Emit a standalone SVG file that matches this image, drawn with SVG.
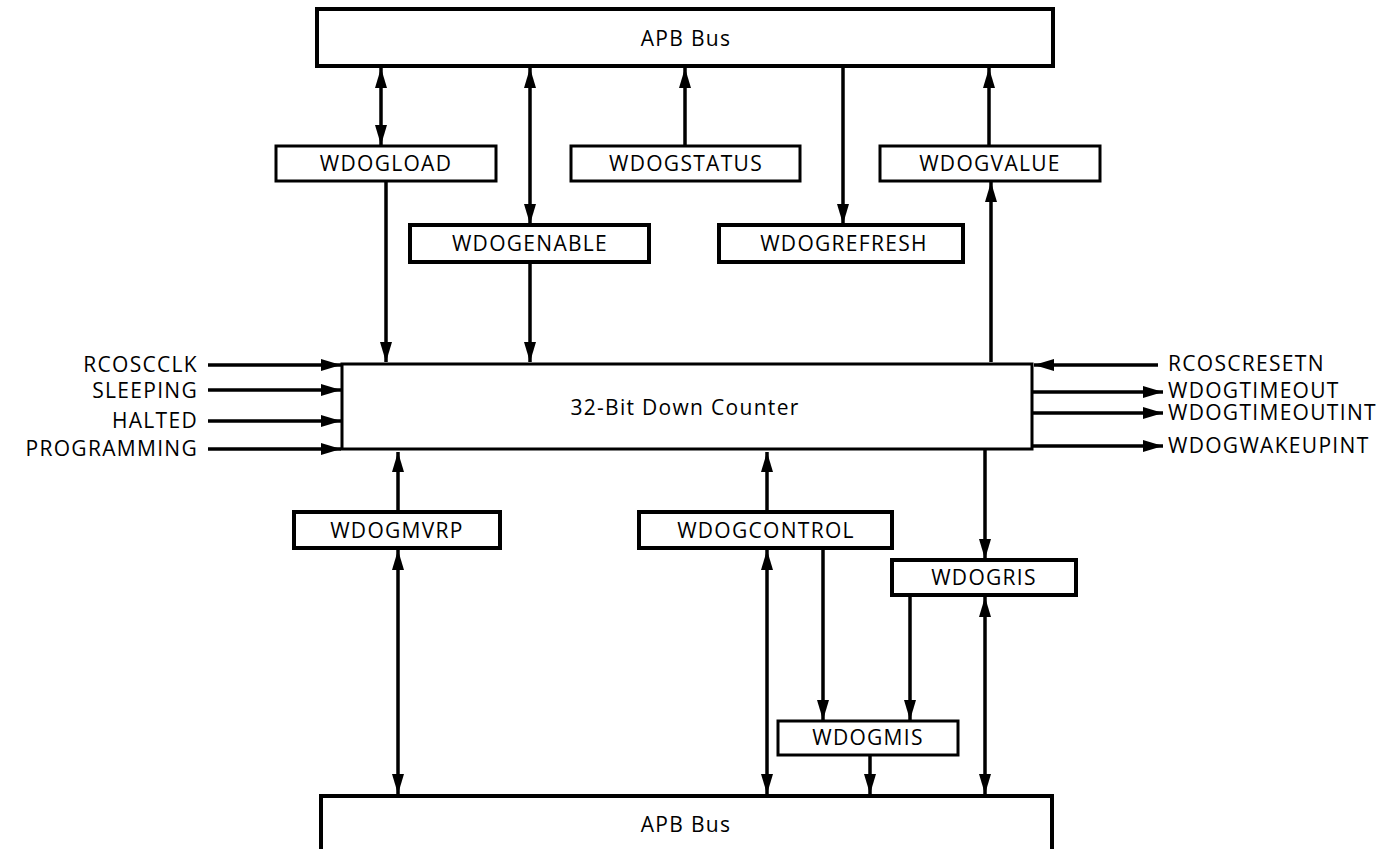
<svg xmlns="http://www.w3.org/2000/svg" width="1387" height="849" viewBox="0 0 1387 849">
<style>
  .box { fill: #fff; stroke: #000; stroke-width: 3; }
  .thick { stroke-width: 4; }
  .lbl { font-family: "Open Sans", "Liberation Sans", sans-serif; font-size: 21px; fill: #000; letter-spacing: 1.3px; }
  .c { text-anchor: middle; }
  .r { text-anchor: end; }
  .l { text-anchor: start; }
  .w { stroke: #000; stroke-width: 3.5; fill: none; }
</style>
<defs>
  <marker id="ah" markerUnits="userSpaceOnUse" markerWidth="20" markerHeight="12" refX="20" refY="6" orient="auto-start-reverse" viewBox="0 0 20 12">
    <path d="M0,0 L20,6 L0,12 z" fill="#000"/>
  </marker>
</defs>

<g id="connectors">
  <!-- top -->
  <line class="w" x1="381" y1="68" x2="381" y2="145" marker-start="url(#ah)" marker-end="url(#ah)"/>
  <line class="w" x1="386" y1="182" x2="386" y2="362" marker-end="url(#ah)"/>
  <line class="w" x1="530" y1="68" x2="530" y2="224" marker-start="url(#ah)" marker-end="url(#ah)"/>
  <line class="w" x1="530" y1="263" x2="530" y2="362" marker-end="url(#ah)"/>
  <line class="w" x1="685" y1="145" x2="685" y2="68" marker-end="url(#ah)"/>
  <line class="w" x1="843" y1="68" x2="843" y2="224" marker-end="url(#ah)"/>
  <line class="w" x1="989" y1="145" x2="989" y2="68" marker-end="url(#ah)"/>
  <line class="w" x1="991" y1="362" x2="991" y2="182" marker-end="url(#ah)"/>
  <!-- left inputs -->
  <line class="w" x1="208" y1="365" x2="341" y2="365" marker-end="url(#ah)"/>
  <line class="w" x1="208" y1="390" x2="341" y2="390" marker-end="url(#ah)"/>
  <line class="w" x1="208" y1="421" x2="341" y2="421" marker-end="url(#ah)"/>
  <line class="w" x1="208" y1="449" x2="341" y2="449" marker-end="url(#ah)"/>
  <!-- right -->
  <line class="w" x1="1158" y1="365" x2="1034" y2="365" marker-end="url(#ah)"/>
  <line class="w" x1="1033" y1="392" x2="1163" y2="392" marker-end="url(#ah)"/>
  <line class="w" x1="1033" y1="413" x2="1163" y2="413" marker-end="url(#ah)"/>
  <line class="w" x1="1033" y1="446" x2="1163" y2="446" marker-end="url(#ah)"/>
  <!-- bottom -->
  <line class="w" x1="398" y1="511" x2="398" y2="452" marker-end="url(#ah)"/>
  <line class="w" x1="398" y1="550" x2="398" y2="794" marker-start="url(#ah)" marker-end="url(#ah)"/>
  <line class="w" x1="767" y1="511" x2="767" y2="452" marker-end="url(#ah)"/>
  <line class="w" x1="767" y1="550" x2="767" y2="794" marker-start="url(#ah)" marker-end="url(#ah)"/>
  <line class="w" x1="823" y1="549" x2="823" y2="720" marker-end="url(#ah)"/>
  <line class="w" x1="985" y1="450" x2="985" y2="559" marker-end="url(#ah)"/>
  <line class="w" x1="910" y1="596" x2="910" y2="720" marker-end="url(#ah)"/>
  <line class="w" x1="985" y1="597" x2="985" y2="794" marker-start="url(#ah)" marker-end="url(#ah)"/>
  <line class="w" x1="870" y1="756" x2="870" y2="794" marker-end="url(#ah)"/>
</g>

<g id="apb-top">
  <rect class="box thick" x="317" y="9" width="736" height="57"/>
  <text class="lbl c" x="686" y="46">APB Bus</text>
</g>
<g id="wdogload">
  <rect class="box" x="276" y="146" width="220" height="35"/>
  <text class="lbl c" x="386" y="171">WDOGLOAD</text>
</g>
<g id="wdogstatus">
  <rect class="box" x="571" y="146" width="229" height="35"/>
  <text class="lbl c" x="686" y="171">WDOGSTATUS</text>
</g>
<g id="wdogvalue">
  <rect class="box" x="880" y="146" width="220" height="35"/>
  <text class="lbl c" x="990" y="171">WDOGVALUE</text>
</g>
<g id="wdogenable">
  <rect class="box thick" x="410" y="225" width="239" height="37"/>
  <text class="lbl c" x="530" y="251">WDOGENABLE</text>
</g>
<g id="wdogrefresh">
  <rect class="box thick" x="719" y="225" width="244" height="37"/>
  <text class="lbl c" x="844" y="251">WDOGREFRESH</text>
</g>
<g id="counter">
  <rect class="box" x="342" y="364" width="690" height="85"/>
  <text class="lbl c" x="685" y="415">32-Bit Down Counter</text>
</g>
<g id="inputs-left">
  <text class="lbl r" x="198" y="372">RCOSCCLK</text>
  <text class="lbl r" x="198" y="398">SLEEPING</text>
  <text class="lbl r" x="198" y="428">HALTED</text>
  <text class="lbl r" x="198" y="456">PROGRAMMING</text>
</g>
<g id="signals-right">
  <text class="lbl l" x="1168" y="371">RCOSCRESETN</text>
  <text class="lbl l" x="1168" y="398">WDOGTIMEOUT</text>
  <text class="lbl l" x="1168" y="420">WDOGTIMEOUTINT</text>
  <text class="lbl l" x="1168" y="453">WDOGWAKEUPINT</text>
</g>
<g id="wdogmvrp">
  <rect class="box thick" x="294" y="512" width="206" height="36"/>
  <text class="lbl c" x="397" y="538">WDOGMVRP</text>
</g>
<g id="wdogcontrol">
  <rect class="box thick" x="639" y="512" width="253" height="36"/>
  <text class="lbl c" x="766" y="538">WDOGCONTROL</text>
</g>
<g id="wdogris">
  <rect class="box thick" x="892" y="560" width="184" height="35"/>
  <text class="lbl c" x="984" y="585">WDOGRIS</text>
</g>
<g id="wdogmis">
  <rect class="box" x="778" y="721" width="180" height="34"/>
  <text class="lbl c" x="868" y="745">WDOGMIS</text>
</g>
<g id="apb-bottom">
  <rect class="box thick" x="321" y="796" width="731" height="70"/>
  <text class="lbl c" x="686" y="832">APB Bus</text>
</g>
</svg>
